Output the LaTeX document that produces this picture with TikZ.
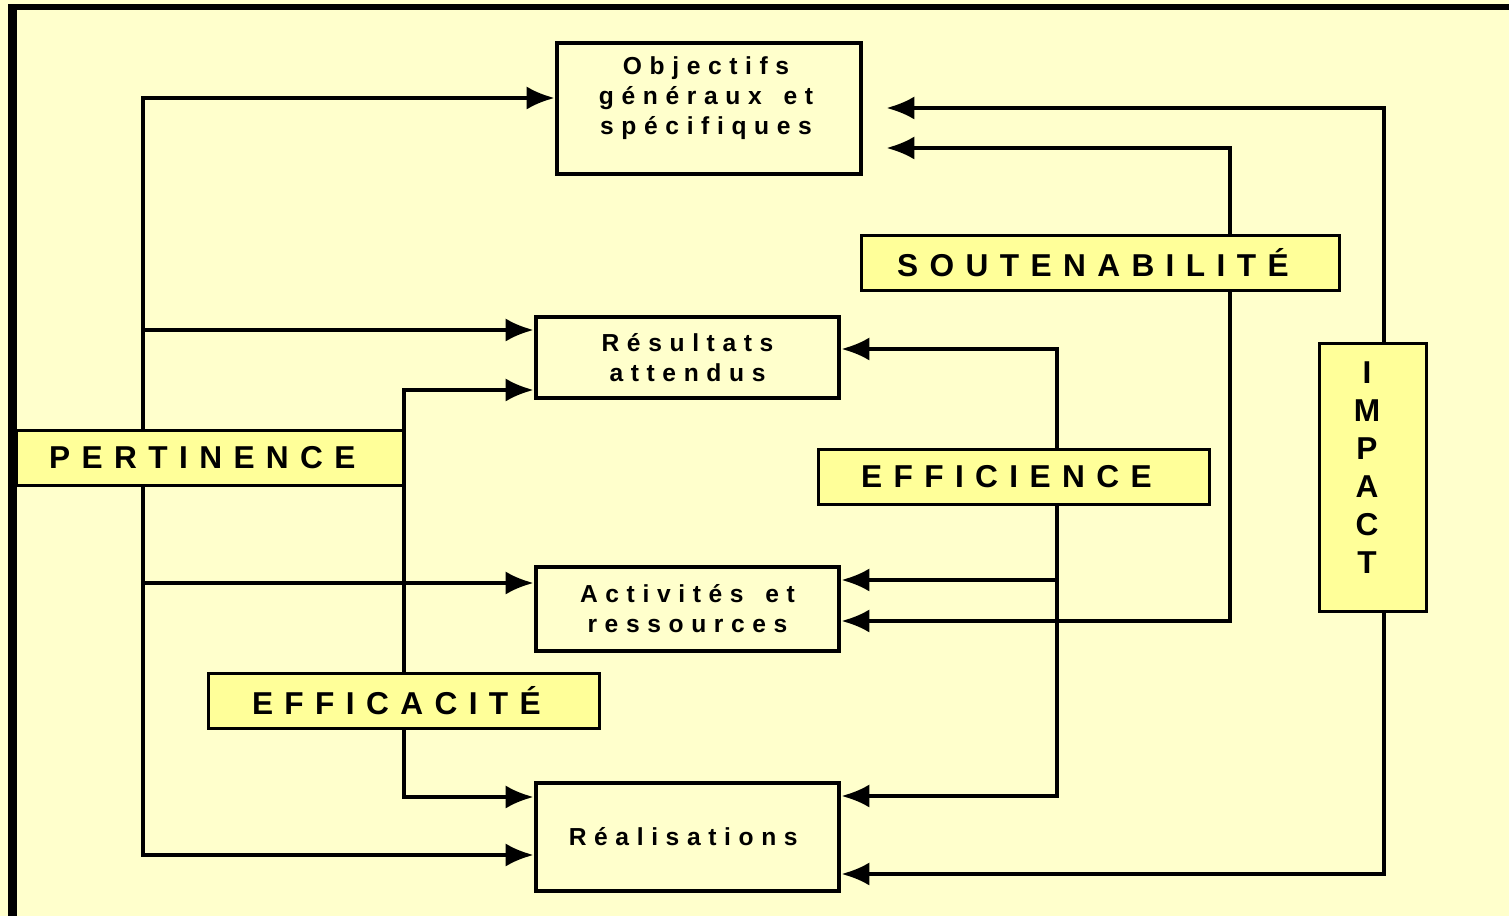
\documentclass[tikz,border=0pt]{standalone}
\usepackage{fontspec}
\setmainfont{Liberation Sans}
\newfontfamily\lblfont{Liberation Sans}[LetterSpace=36]
\newfontfamily\boxfont{Liberation Sans}[LetterSpace=31]
\usetikzlibrary{arrows.meta}
\definecolor{fond}{HTML}{FFFFCC}
\definecolor{etiq}{HTML}{FFFF99}
\newcommand\fin{\hspace{0.35em}}
\newcommand\finlbl{\hspace{0.48em}}

\begin{document}
\begin{tikzpicture}[
        fleche/.style={line width=1.1pt,-{Latex[length=2.8mm,width=2.3mm]}},
        boite/.style={draw,line width=1.3pt,fill=fond,inner sep=0pt,align=center,
            font=\boxfont\bfseries\fontsize{7}{8.5}\selectfont},
        etiquette/.style={draw,line width=0.9pt,fill=etiq,inner sep=0pt,align=center,
            minimum height=0.55cm,font=\lblfont\bfseries\fontsize{9}{10.8}\selectfont}]
        \useasboundingbox (0,0) rectangle (15.09,-9.16);
        \fill[fond] (0,0) rectangle (15.09,-9.16);
        \draw[line width=2.6pt] (0.125,-9.3) -- (0.125,-0.07);
        \draw[line width=1.7pt] (0.08,-0.07) -- (15.3,-0.07);
        % boites
        \node[boite,minimum width=3.04cm,minimum height=1.31cm] (obj) at (7.09,-1.085) {};
        \node[boite,draw=none,fill=none] (objtxt) at (7.06,-0.98)
            {Objectifs\fin\\généraux\hspace{0.3em} et\fin\\spécifiques\fin};
        \node[boite,minimum width=3.03cm,minimum height=0.81cm] (res) at (6.875,-3.575)
            {Résultats\fin\\attendus\fin};
        \node[boite,minimum width=3.03cm,minimum height=0.84cm] (act) at (6.875,-6.09)
            {Activités\hspace{0.3em} et\fin\\ressources\fin};
        \node[boite,minimum width=3.03cm,minimum height=1.08cm] (real) at (6.875,-8.37)
            {Réalisations\fin};
        % etiquettes
        \node[etiquette,minimum width=3.87cm] (pert) at (2.10,-4.58) {PERTINENCE\finlbl};
        \node[etiquette,minimum width=3.91cm] (effa) at (4.04,-7.01) {EFFICACITÉ\finlbl};
        \node[etiquette,minimum width=3.91cm] (effi) at (10.14,-4.77) {EFFICIENCE\finlbl};
        \node[etiquette,minimum width=4.78cm] (sout) at (11.005,-2.63) {SOUTENABILITÉ\finlbl};
        \node[etiquette,minimum width=1.07cm,minimum height=2.68cm] (imp) at (13.73,-4.775) {};
        \node[etiquette,draw=none,fill=none,minimum height=0pt] (imptxt) at (13.67,-4.675)
            {I\\M\\P\\A\\C\\T};
        \coordinate (objr) at ([xshift=0.23cm]obj.east);
        % pertinence
        \coordinate (p1) at (1.43,-0.98);
        \coordinate (p2) at (1.43,-3.30);
        \coordinate (p3) at (1.43,-5.83);
        \coordinate (p4) at (1.43,-8.55);
        \draw[fleche] (pert.north -| p1) |- (obj.west |- p1);
        \draw[fleche] (p2) -- (p2 -| res.west);
        \draw[fleche] (p3) -- (p3 -| act.west);
        \draw[fleche] (pert.south -| p4) |- (p4 -| real.west);
        % efficacite
        \coordinate (c1) at (4.04,-3.90);
        \coordinate (c2) at (4.04,-7.97);
        \draw[fleche] (effa.north) |- (c1 -| res.west);
        \draw[fleche] (effa.south) |- (c2 -| real.west);
        % efficience
        \coordinate (e1) at (10.57,-3.49);
        \coordinate (e2) at (10.57,-5.80);
        \coordinate (e3) at (10.57,-7.96);
        \draw[fleche] (effi.north -| e1) |- (e1 -| res.east);
        \draw[fleche] (e2) -- (e2 -| act.east);
        \draw[fleche] (effi.south -| e3) |- (e3 -| real.east);
        % soutenabilite
        \coordinate (s1) at (12.30,-1.48);
        \coordinate (s2) at (12.30,-6.21);
        \draw[fleche] (sout.north -| s1) |- (s1 -| objr);
        \draw[fleche] (sout.south -| s2) |- (s2 -| act.east);
        % impact
        \coordinate (i1) at (13.84,-1.08);
        \coordinate (i2) at (13.84,-8.74);
        \draw[fleche] (imp.north -| i1) |- (i1 -| objr);
        \draw[fleche] (imp.south -| i2) |- (i2 -| real.east);
    \end{tikzpicture}
\end{document}
